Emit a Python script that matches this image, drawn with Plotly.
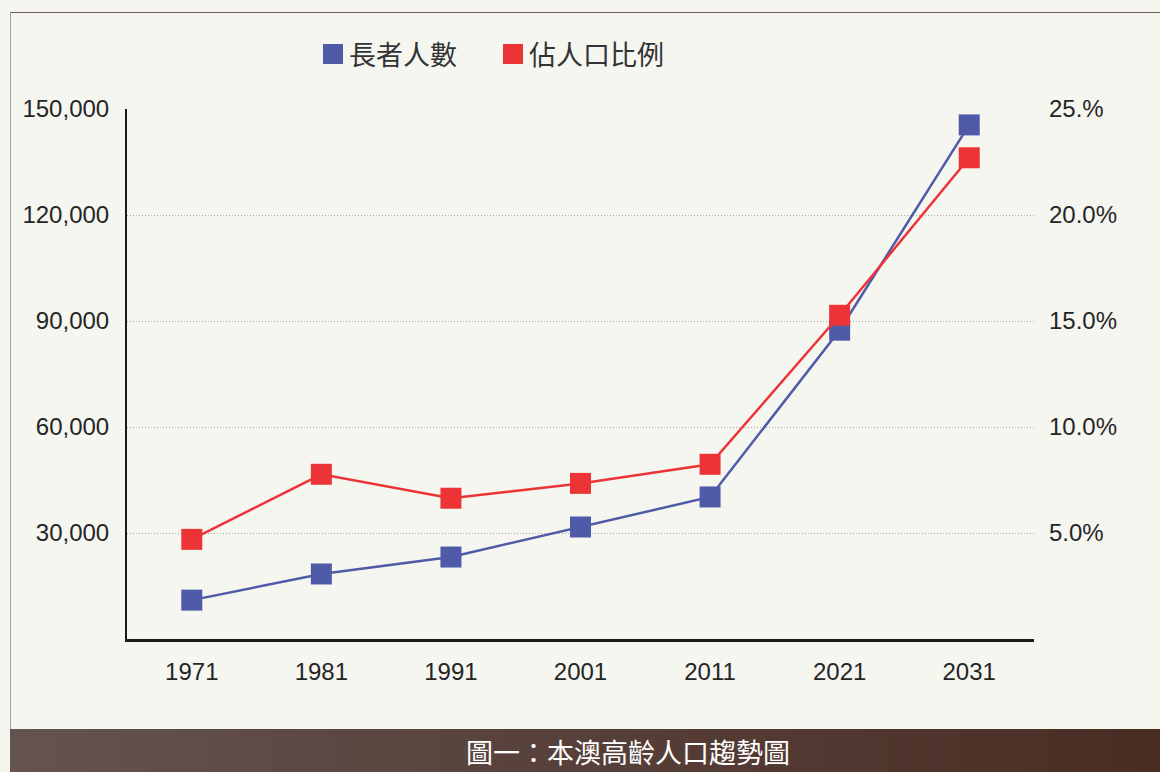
import plotly.graph_objects as go

years = ["1971", "1981", "1991", "2001", "2011", "2021", "2031"]
elderly = [11000, 18400, 23200, 31700, 40200, 87400, 145500]
share_pct = [4.7, 7.77, 6.64, 7.34, 8.24, 15.27, 22.7]

left_ticks = [30000, 60000, 90000, 120000, 150000]
left_text = ["30,000", "60,000", "90,000", "120,000", "150,000"]
right_ticks = [5, 10, 15, 20, 25]
right_text = ["5.0%", "10.0%", "15.0%", "20.0%", "25.%"]

name_elderly = "長者人數"
name_share = "佔人口比例"
title_text = "圖一：本澳高齡人口趨勢圖"

BLUE = "#4f5aa8"
RED = "#ec3437"
BG = "#f6f6f1"
TXT = "#252525"
NUM_FONT = "Liberation Sans Narrow, Arial Narrow, Liberation Sans, sans-serif"
CJK_FONT = "Noto Sans CJK TC, Noto Sans CJK SC, sans-serif"

W, H = 1160, 772
L, R, T, B = 127, 1034, 109, 639


def px(x):
    return (x - L) / (R - L)


def py(y):
    return (B - y) / (B - T)


fig = go.Figure()
fig.add_trace(go.Scatter(
    x=years, y=elderly, name=name_elderly, mode="lines+markers",
    line=dict(color=BLUE, width=2.5),
    marker=dict(symbol="square", size=21, color=BLUE),
    yaxis="y", showlegend=False,
))
fig.add_trace(go.Scatter(
    x=years, y=share_pct, name=name_share, mode="lines+markers",
    line=dict(color=RED, width=2.5),
    marker=dict(symbol="square", size=21, color=RED),
    yaxis="y2", showlegend=False,
))

shapes = []
annotations = []

# legend drawn manually
for x0, color, label in [(323, BLUE, name_elderly), (503, RED, name_share)]:
    shapes.append(dict(type="rect", xref="paper", yref="paper",
                       x0=px(x0), x1=px(x0 + 20), y0=py(64), y1=py(44),
                       fillcolor=color, line=dict(width=0)))
    annotations.append(dict(xref="paper", yref="paper", x=px(x0 + 24), y=py(54),
                            xanchor="left", yanchor="middle", showarrow=False,
                            text=label, font=dict(family=CJK_FONT, size=27, color="#333333")))

# frame lines
shapes.append(dict(type="line", xref="paper", yref="paper", x0=px(10), x1=px(1160),
                   y0=py(12.5), y1=py(12.5), line=dict(color="#6e5a55", width=1)))
shapes.append(dict(type="line", xref="paper", yref="paper", x0=px(10.5), x1=px(10.5),
                   y0=py(12), y1=py(729), line=dict(color="#a99e9b", width=1)))

# bottom gradient band (pixel-aligned overlapping strips)
c0 = (100, 83, 79)
c1 = (73, 45, 35)
x_start, x_end, step = 10, 1160, 5
n = (x_end - x_start) // step
for i in range(n):
    t = i / (n - 1)
    c = tuple(round(c0[k] + (c1[k] - c0[k]) * t) for k in range(3))
    xa = x_start + step * i
    xb = min(xa + step + 2, x_end)
    shapes.append(dict(type="rect", xref="paper", yref="paper",
                       x0=px(xa), x1=px(xb), y0=py(772), y1=py(729),
                       fillcolor="rgb(%d,%d,%d)" % c, line=dict(width=0), layer="below"))

annotations.append(dict(xref="paper", yref="paper", x=px(627.5), y=py(751),
                        xanchor="center", yanchor="middle", showarrow=False,
                        text=title_text, font=dict(family=CJK_FONT, size=27, color="#ffffff")))

fig.update_layout(
    width=W, height=H,
    margin=dict(l=L, r=W - R, t=T, b=H - B, pad=0),
    paper_bgcolor=BG, plot_bgcolor=BG,
    showlegend=False,
    shapes=shapes, annotations=annotations,
    xaxis=dict(
        type="category", range=[-0.5, 6.5], showgrid=False,
        showline=True, linecolor="#1a1a1a", linewidth=2.5,
        ticks="", ticklabelstandoff=9,
        tickfont=dict(family=NUM_FONT, size=24, color=TXT),
        zeroline=False,
    ),
    yaxis=dict(
        range=[0, 150000], tickvals=left_ticks, ticktext=left_text,
        showgrid=True, gridcolor="#a8a8a8", gridwidth=1, griddash="1px,2px",
        showline=True, linecolor="#1a1a1a", linewidth=2,
        ticks="", ticklabelstandoff=11, zeroline=False,
        tickfont=dict(family=NUM_FONT, size=24, color=TXT),
    ),
    yaxis2=dict(
        range=[0, 25], tickvals=right_ticks, ticktext=right_text,
        overlaying="y", side="right", showgrid=False, showline=False,
        ticks="", ticklabelstandoff=14, zeroline=False,
        tickfont=dict(family=NUM_FONT, size=24, color=TXT),
    ),
)

fig.write_html("out.html", config={"displayModeBar": False},
               post_script="document.body.style.margin='0px';")
